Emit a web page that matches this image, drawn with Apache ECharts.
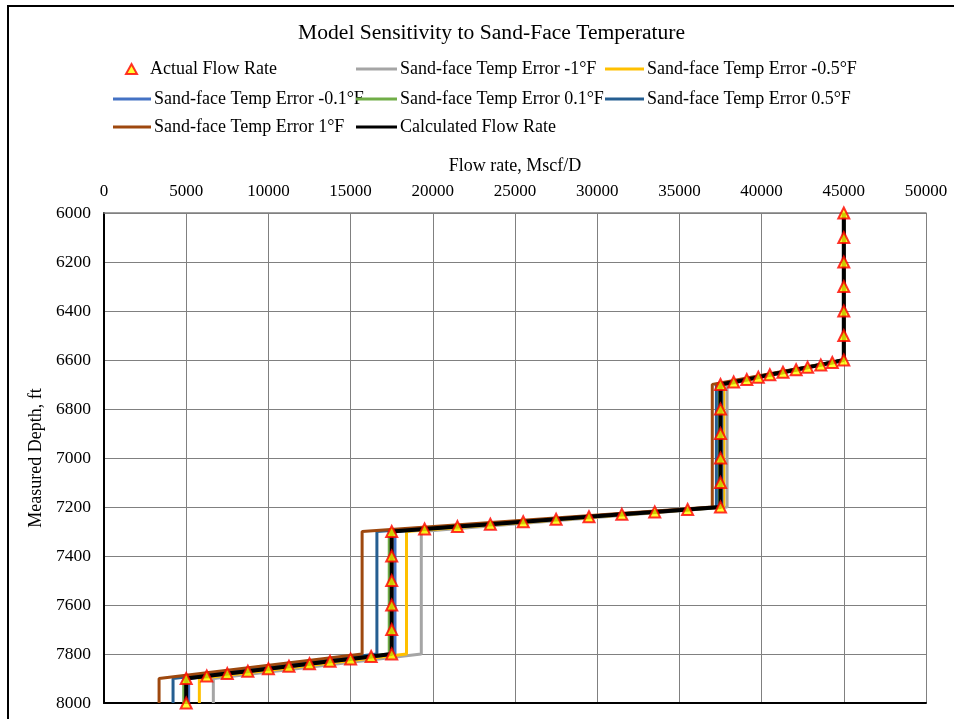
<!DOCTYPE html>
<html>
<head>
<meta charset="utf-8">
<title>Model Sensitivity to Sand-Face Temperature</title>
<script src="https://cdn.jsdelivr.net/npm/echarts@6/dist/echarts.min.js"></script>
<style>
  html, body { margin: 0; padding: 0; background: #fff; }
  #chart { width: 954px; height: 719px; }
</style>
</head>
<body>
<div id="chart"></div>
<script>
// Measured flow-rate profile (Mscf/D) against measured depth (ft)
const actualDepth = [
  6000, 6100, 6200, 6300, 6400, 6500, 6600,
  6610, 6620, 6630, 6640, 6650, 6660, 6670, 6680, 6690, 6700,
  6800, 6900, 7000, 7100, 7200,
  7210, 7220, 7230, 7240, 7250, 7260, 7270, 7280, 7290, 7300,
  7400, 7500, 7600, 7700, 7800,
  7810, 7820, 7830, 7840, 7850, 7860, 7870, 7880, 7890, 7900,
  8000
];
const actualRate = [
  45000, 45000, 45000, 45000, 45000, 45000, 45000,
  44300, 43600, 42800, 42100, 41300, 40500, 39800, 39100, 38300, 37500,
  37500, 37500, 37500, 37500, 37500,
  35500, 33500, 31500, 29500, 27500, 25500, 23500, 21500, 19500, 17500,
  17500, 17500, 17500, 17500, 17500,
  16250, 15000, 13750, 12500, 11250, 10000, 8750, 7500, 6250, 5000,
  5000
];
// Model output with the correct sand-face temperature
const calculatedRate = [
  45000, 45000, 45000, 45000, 45000, 45000, 45000,
  44300, 43600, 42800, 42100, 41300, 40500, 39800, 39100, 38300, 37500,
  37500, 37500, 37500, 37500, 37500,
  35500, 33500, 31500, 29500, 27500, 25500, 23500, 21500, 19500, 17500,
  17500, 17500, 17500, 17500, 17500,
  16250, 15000, 13750, 12500, 11250, 10000, 8750, 7500, 6250, 5000,
  5000
];

// Model output with a biased sand-face temperature (break points of each profile)
const errorDepth = [6000, 6600, 6700, 7200, 7300, 7800, 7900, 8000];
const errMinus1   = [45000, 45000, 37900, 37900, 19300, 19300, 6650, 6650];
const errMinus05  = [45000, 45000, 37700, 37700, 18400, 18400, 5800, 5800];
const errMinus01  = [45000, 45000, 37580, 37580, 17700, 17700, 5150, 5150];
const errPlus01   = [45000, 45000, 37430, 37430, 17350, 17350, 4850, 4850];
const errPlus05   = [45000, 45000, 37250, 37250, 16600, 16600, 4200, 4200];
const errPlus1    = [45000, 45000, 37000, 37000, 15700, 15700, 3350, 3350];

const seriesNames = [
  'Actual Flow Rate',
  'Sand-face Temp Error -1°F',
  'Sand-face Temp Error -0.5°F',
  'Sand-face Temp Error -0.1°F',
  'Sand-face Temp Error 0.1°F',
  'Sand-face Temp Error 0.5°F',
  'Sand-face Temp Error 1°F',
  'Calculated Flow Rate'
];

const rateTicks = { min: 0, max: 50000, interval: 5000 };
const depthTicks = { min: 6000, max: 8000, interval: 200 };

const FONT = '"Liberation Serif", "Times New Roman", serif';

function pairs(xs, ys) {
  return xs.map((x, i) => [x, ys[i]]);
}

function plain(v) {
  return String(v);
}

function errLine(name, values, color) {
  return {
    name: name,
    type: 'line',
    data: pairs(values, errorDepth),
    showSymbol: false,
    symbol: 'none',
    lineStyle: { color: color, width: 3 },
    itemStyle: { color: color },
    z: 2,
    animation: false
  };
}

// One legend block per entry so the entries sit in fixed columns
function legendAt(name, left, top, width) {
  const isMarker = name === seriesNames[0];
  return {
    data: [isMarker ? { name: name, icon: 'triangle' } : { name: name, icon: 'rect' }],
    left: left,
    top: top,
    itemWidth: width,
    itemHeight: isMarker ? 10 : 3,
    itemGap: 0,
    padding: 0,
    textStyle: {
      fontFamily: FONT, fontSize: 18, color: '#000',
      padding: isMarker ? [0, 0, 0, 8] : [0, 0, 0, -2]
    },
    selectedMode: false
  };
}

const rowTop = [60, 90, 118];

const chart = echarts.init(document.getElementById('chart'), null, { renderer: 'canvas' });

chart.setOption({
  backgroundColor: '#fff',
  animation: false,
  title: {
    text: 'Model Sensitivity to Sand-Face Temperature',
    left: 293,
    top: 17,
    textStyle: { fontFamily: FONT, fontSize: 21.6, fontWeight: 'normal', color: '#000' }
  },
  graphic: [{
    type: 'rect',
    shape: { x: 8, y: 6, width: 960, height: 730 },
    style: { fill: 'none', stroke: '#000', lineWidth: 2 },
    silent: true
  }],
  legend: [
    legendAt(seriesNames[0], 125, rowTop[0], 11),
    legendAt(seriesNames[1], 356, rowTop[0], 41),
    legendAt(seriesNames[2], 605, rowTop[0], 39),
    legendAt(seriesNames[3], 113, rowTop[1], 38),
    legendAt(seriesNames[4], 356, rowTop[1], 41),
    legendAt(seriesNames[5], 605, rowTop[1], 39),
    legendAt(seriesNames[6], 113, rowTop[2], 38),
    legendAt(seriesNames[7], 356, rowTop[2], 41)
  ],
  grid: { left: 104, top: 213, right: 28, bottom: 16, containLabel: false },
  xAxis: [{
    type: 'value',
    position: 'top',
    min: rateTicks.min, max: rateTicks.max, interval: rateTicks.interval,
    name: 'Flow rate, Mscf/D',
    nameLocation: 'middle',
    nameGap: 38,
    nameTextStyle: { fontFamily: FONT, fontSize: 18, color: '#000' },
    axisLine: { show: true, lineStyle: { color: '#808080', width: 1.5 } },
    axisTick: { show: false },
    axisLabel: { fontFamily: FONT, fontSize: 17, color: '#000', margin: 13, formatter: plain },
    splitLine: { show: true, lineStyle: { color: '#808080', width: 1 } }
  }, {
    type: 'value',
    position: 'bottom',
    min: rateTicks.min, max: rateTicks.max, interval: rateTicks.interval,
    axisLine: { show: true, lineStyle: { color: '#000', width: 2 } },
    axisTick: { show: false },
    axisLabel: { show: false },
    splitLine: { show: false }
  }],
  yAxis: [{
    type: 'value',
    inverse: true,
    position: 'left',
    min: depthTicks.min, max: depthTicks.max, interval: depthTicks.interval,
    name: 'Measured Depth, ft',
    nameLocation: 'middle',
    nameGap: 50,
    nameRotate: 90,
    nameTextStyle: { fontFamily: FONT, fontSize: 18, color: '#000' },
    axisLine: { show: true, lineStyle: { color: '#808080', width: 1.5 } },
    axisTick: { show: false },
    axisLabel: { fontFamily: FONT, fontSize: 17.5, color: '#000', margin: 13, formatter: plain },
    splitLine: { show: true, lineStyle: { color: '#808080', width: 1 } }
  }, {
    type: 'value',
    inverse: true,
    position: 'right',
    min: depthTicks.min, max: depthTicks.max, interval: depthTicks.interval,
    axisLine: { show: true, lineStyle: { color: '#000', width: 2 } },
    axisTick: { show: false },
    axisLabel: { show: false },
    splitLine: { show: false }
  }],
  series: [
    {
      name: seriesNames[0],
      type: 'scatter',
      data: pairs(actualRate, actualDepth),
      symbol: 'triangle',
      symbolSize: 11,
      itemStyle: { color: '#FFFF00', borderColor: '#FF0000', borderWidth: 2 },
      z: 5,
      animation: false
    },
    errLine(seriesNames[1], errMinus1, '#A5A5A5'),
    errLine(seriesNames[2], errMinus05, '#FFC000'),
    errLine(seriesNames[3], errMinus01, '#4472C4'),
    errLine(seriesNames[4], errPlus01, '#70AD47'),
    errLine(seriesNames[5], errPlus05, '#255E91'),
    errLine(seriesNames[6], errPlus1, '#9E480E'),
    {
      name: seriesNames[7],
      type: 'line',
      data: pairs(calculatedRate, actualDepth),
      showSymbol: false,
      symbol: 'none',
      lineStyle: { color: '#000', width: 4 },
      itemStyle: { color: '#000' },
      z: 3,
      animation: false
    }
  ]
});
</script>
</body>
</html>
